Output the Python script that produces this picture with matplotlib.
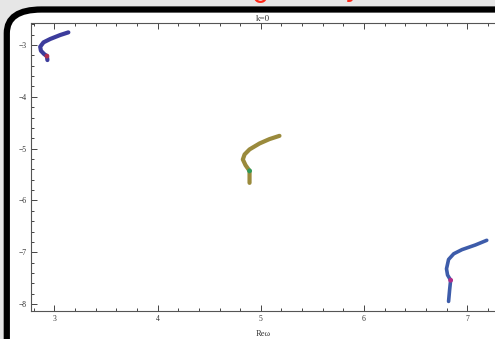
import matplotlib.pyplot as plt
from matplotlib.patches import FancyBboxPatch
from matplotlib.ticker import MultipleLocator

# curve points (Re w, Im w)
re_a = [3.135, 3.055, 2.958, 2.894, 2.862, 2.869, 2.900, 2.927, 2.932]
im_a = [-2.755, -2.807, -2.884, -2.948, -3.033, -3.110, -3.174, -3.213, -3.290]

re_b = [5.181, 5.084, 4.988, 4.891, 4.843, 4.826, 4.852, 4.891, 4.891]
im_b = [-4.753, -4.816, -4.900, -5.015, -5.112, -5.209, -5.319, -5.429, -5.661]

re_c = [7.19, 7.08, 6.95, 6.87, 6.82, 6.80, 6.81, 6.84, 6.83, 6.82]
im_c = [-6.77, -6.86, -6.95, -7.03, -7.14, -7.32, -7.44, -7.54, -7.73, -7.95]

# highlighted points on each curve
mark_re = [2.927, 4.891, 6.84]
mark_im = [-3.213, -5.429, -7.54]
mark_col = ['#b03050', '#2e9a5a', '#b02e8a']

serif = ['Liberation Serif', 'DejaVu Serif']

fig = plt.figure(figsize=(4.95, 3.39), dpi=100)
fig.patch.set_facecolor('#e6e6e6')

W, H = 495.0, 339.0
frame = FancyBboxPatch((6.8 / W, -0.2), 1.2, 1.2 - 9.5 / H,
                       boxstyle='round,pad=0,rounding_size=0.07',
                       transform=fig.transFigure, facecolor='white',
                       edgecolor='black', linewidth=4.5, zorder=0.5)
fig.patches.append(frame)

# red heading, only its bottom shows above the frame
fig.text(260 / W, 1 - 3 / H, 'o', color='#ff2a1a', fontsize=20,
         ha='center', va='baseline', zorder=0.2)
fig.text(352 / W, 1 + 4 / H, 'y', color='#ff2a1a', fontsize=20,
         ha='center', va='baseline', zorder=0.2)

ax = fig.add_axes([30.7 / W, 28 / H, 1 - 30.7 / W, (311 - 23.3) / H])
ax.set_zorder(1)
ax.set_facecolor('none')

ax.plot(re_a, im_a, '-', color='#3c3c9c', lw=3, solid_capstyle='round')
ax.plot(re_b, im_b, '-', color='#9a8a3c', lw=3, solid_capstyle='round')
ax.plot(re_c, im_c, '-', color='#3d5caa', lw=2.6, solid_capstyle='round')
ax.scatter(mark_re, mark_im, s=6, c=mark_col, zorder=3)

ax.set_xlim(2.77, 7.27)
ax.set_ylim(-8.135, -2.58)
ax.xaxis.set_major_locator(MultipleLocator(1))
ax.xaxis.set_minor_locator(MultipleLocator(0.2))
ax.yaxis.set_major_locator(MultipleLocator(1))
ax.yaxis.set_minor_locator(MultipleLocator(0.2))

ax.spines['right'].set_visible(False)
for s in ['left', 'top', 'bottom']:
    ax.spines[s].set_color('#555555')
    ax.spines[s].set_linewidth(0.8)

ax.tick_params(which='both', direction='in', top=True, right=False,
               color='#444444', width=0.7, labelsize=5.5, labelcolor='#333333')
ax.tick_params(which='major', length=4, pad=3)
ax.tick_params(which='minor', length=2)
for lab in ax.get_xticklabels() + ax.get_yticklabels():
    lab.set_family(serif)

ax.set_title('k=0', fontsize=6.5, family=serif, color='#333333', pad=2)
ax.set_xlabel('Re\u03c9', fontsize=6, family=serif, color='#333333', labelpad=5)

fig.savefig('out.png', dpi=100, facecolor=fig.get_facecolor())
